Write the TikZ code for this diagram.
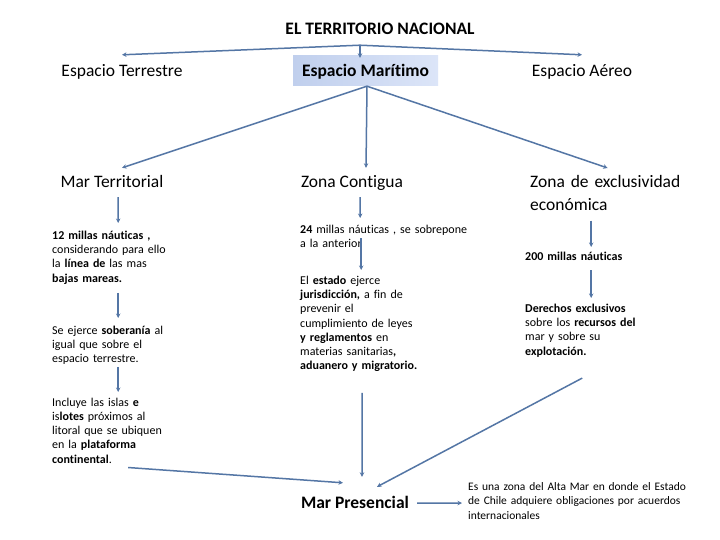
\documentclass[tikz,border=0pt]{standalone}
\usepackage{fontspec}
\setmainfont{Carlito}[Ligatures=NoCommon]
\usetikzlibrary{arrows.meta}
\definecolor{lineblue}{RGB}{84,118,165}
\definecolor{boxl}{RGB}{192,207,237}
\definecolor{boxr}{RGB}{220,229,248}
\tikzset{
  big/.style={font=\fontsize{17.5}{21}\selectfont, text height=12pt, text depth=4pt, inner sep=0pt},
  small/.style={font=\fontsize{12}{14.3}\selectfont, align=left, inner sep=0pt, anchor=north west},
  conn/.style={draw=lineblue, line width=1.5pt, -{Stealth[length=4.5pt,width=4.5pt]}},
}
\begin{document}
\begin{tikzpicture}[x=1pt,y=-1pt]
\useasboundingbox[fill=white] (0,0) rectangle (720,540);

% top level
\node[big] (title) at (380,31) {\textbf{EL TERRITORIO NACIONAL}};
\coordinate (J) at ([xshift=-20pt,yshift=-6pt]title.south);
\node[big] (ET) at (122,73) {Espacio Terrestre};
\node[big] (EA) at (582,73) {Espacio Aéreo};
\node[big, text depth=0pt, minimum width=145pt, minimum height=30pt, left color=boxl, right color=boxr] (EM) at (365.5,71) {\textbf{Espacio Marítimo}};

% second level
\node[big] (MT) at (112,184) {Mar Territorial};
\node[big] (ZC) at (352,184) {Zona Contigua};
\node[font=\fontsize{17.5}{23}\selectfont, align=left, inner sep=0pt, anchor=north west, text width=155pt] (ZE) at (530,175) {Zona de exclusividad\\económica};

% left column
\node[small, text width=132pt] (B1) at (52,230.5) {\textbf{12 millas náuticas ,}\\considerando para ello\\la \textbf{línea de} las mas\\\textbf{bajas mareas.}};
\node[small, text width=132pt] (B2) at (52,325.5) {Se ejerce \textbf{soberanía} al\\igual que sobre el\\espacio terrestre.};
\node[small, text width=132pt] (B3) at (52,397.5) {Incluye las islas \textbf{e}\\is\textbf{lotes} próximos al\\litoral que se ubiquen\\en la \textbf{plataforma}\\\textbf{continental}.};

% middle column
\node[small, text width=170pt] (B4) at (300,224.5) {\textbf{24} millas náuticas , se sobrepone\\a la anterior};
\node[small, text width=122pt] (B5) at (300,275.5) {El \textbf{estado} ejerce\\\textbf{jurisdicción,} a fin de\\prevenir el\\cumplimiento de leyes\\\textbf{y reglamentos} en\\materias sanitarias\textbf{,}\\\textbf{aduanero y migratorio.}};

% right column
\node[small, text width=132pt] (B6) at (525,251.5) {\textbf{200 millas náuticas}};
\node[small, text width=132pt] (B7) at (525,303.5) {\textbf{Derechos exclusivos}\\sobre los \textbf{recursos del}\\mar y sobre su\\\textbf{explotación.}};

% bottom
\node[big] (MP) at (355,504) {\textbf{Mar Presencial}};
\node[small, font=\fontsize{11.5}{14.3}\selectfont, text width=230pt] (B8) at (468,482.5) {Es una zona del Alta Mar en donde el Estado\\de Chile adquiere obligaciones por acuerdos\\internacionales};

% connectors: top
\draw[conn] (J) -- ([yshift=10pt]ET.north);
\draw[conn] (J) -- ([yshift=10pt]EA.north);
\draw[conn] (J) -- ([xshift=-5.5pt,yshift=-2pt]EM.north);

% from Espacio Maritimo
\draw[conn] ([xshift=1.5pt]EM.south) -- ([xshift=10pt,yshift=8pt]MT.north);
\draw[conn] ([xshift=1.5pt]EM.south) -- ([xshift=14pt,yshift=8pt]ZC.north);
\draw[conn] ([xshift=1.5pt]EM.south) -- ([yshift=7pt]ZE.north);

% left chain
\draw[conn] ([xshift=6pt,yshift=-5pt]MT.south) -- ([yshift=7.5pt]B1.north);
\draw[conn] ([yshift=-8.6pt]B1.south) -- ([yshift=7.5pt]B2.north);
\draw[conn] ([yshift=-2pt]B2.south) -- ([yshift=5.5pt]B3.north);
\draw[conn] ([xshift=10pt,yshift=-4pt]B3.south) -- ([xshift=-12pt,yshift=13pt]MP.north);

% middle chain
\draw[conn] ([xshift=8pt,yshift=-5pt]ZC.south) -- ([xshift=-25pt,yshift=6.5pt]B4.north);
\draw[conn] ([xshift=-24pt,yshift=9.3pt]B4.south) -- ([yshift=5.5pt]B5.north);
\draw[conn] ([xshift=1pt,yshift=-20.7pt]B5.south) -- ([xshift=7pt,yshift=19pt]MP.north);

% right chain
\draw[conn] ([xshift=-16.5pt,yshift=-10pt]ZE.south) -- ([yshift=4.5pt]B6.north);
\draw[conn] ([yshift=-10pt]B6.south) -- ([yshift=5.5pt]B7.north);
\draw[conn] ([xshift=-9pt,yshift=-21pt]B7.south) -- ([xshift=22pt,yshift=9pt]MP.north);

% Mar Presencial to its description
\draw[conn] ([xshift=8pt,yshift=1pt]MP.east) -- ([xshift=-6pt,yshift=-2pt]B8.west);
\end{tikzpicture}
\end{document}
